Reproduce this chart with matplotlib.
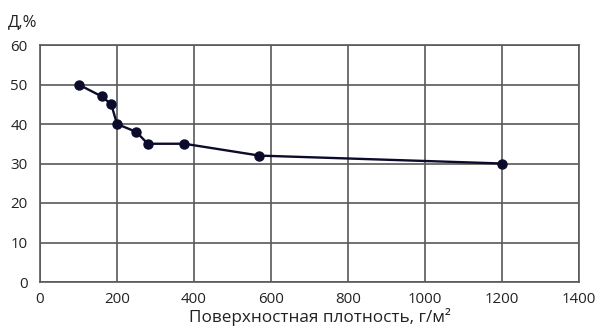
import matplotlib.pyplot as plt

plt.rcParams['font.family'] = ['Open Sans', 'DejaVu Sans']

# surface density, g/m2 and D, %
density = [100, 160, 185, 200, 250, 280, 375, 570, 1200]
d_pct = [50, 47, 45, 40, 38, 35, 35, 32, 30]

x_ticks = [0, 200, 400, 600, 800, 1000, 1200, 1400]
y_ticks = [0, 10, 20, 30, 40, 50, 60]

grid_clr = '#595959'
line_clr = '#0b0b2b'
txt_clr = '#222222'


def main():
    fig = plt.figure(figsize=(6.0, 3.27), dpi=100)
    ax = fig.add_axes([40 / 600, 1 - 282 / 327, 539 / 600, 237 / 327])

    ax.plot(density, d_pct, color=line_clr, lw=1.7,
            marker='o', ms=6.5, mfc=line_clr, mec=line_clr, zorder=3)

    ax.set_xlim(0, 1400)
    ax.set_ylim(0, 60)
    ax.set_xticks(x_ticks)
    ax.set_yticks(y_ticks)
    ax.tick_params(length=0, labelsize=10.8, colors=txt_clr)
    ax.tick_params(axis='x', pad=7)
    ax.tick_params(axis='y', pad=9)

    ax.grid(True, color=grid_clr, lw=1.2)
    ax.set_axisbelow(True)
    for sp in ax.spines.values():
        sp.set_color(grid_clr)
        sp.set_linewidth(1.2)

    fig.text(320 / 600, 0.5 / 327, 'Поверхностная плотность, г/м²',
             ha='center', va='bottom', fontsize=12.3, color=txt_clr)
    fig.text(8 / 600, 1 - 22 / 327, 'Д,%', ha='left', va='center',
             fontsize=12, color=txt_clr)

    fig.savefig('out.png', dpi=100)
    plt.close()


if __name__ == '__main__':
    main()
